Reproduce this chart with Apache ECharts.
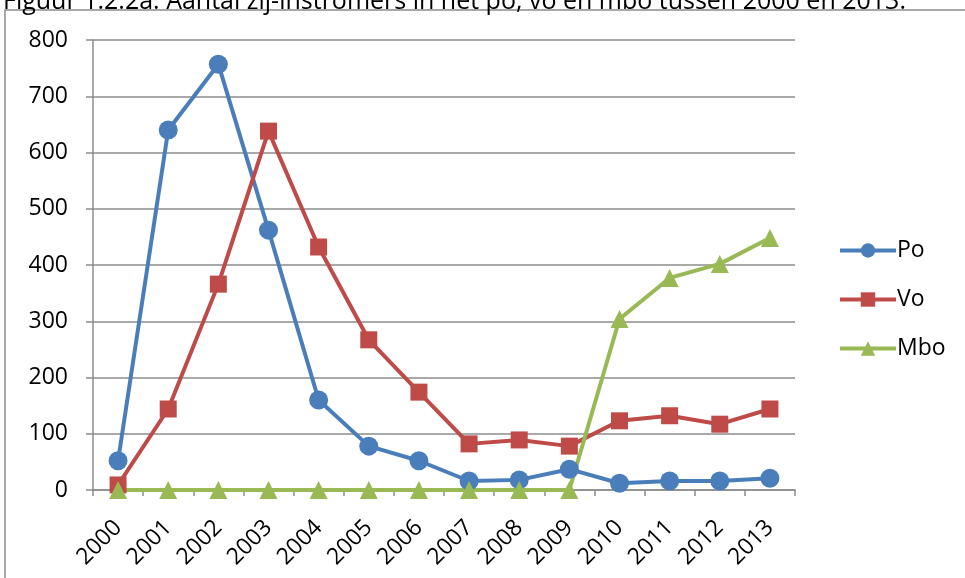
<!DOCTYPE html>
<html>
<head>
<meta charset="utf-8">
<style>
  html, body { margin: 0; padding: 0; background: #fff; }
  #chart { width: 965px; height: 578px; }
</style>
<script src="https://cdn.jsdelivr.net/npm/echarts@6/dist/echarts.min.js"></script>
</head>
<body>
<div id="chart"></div>
<script>
const years = ['2000', '2001', '2002', '2003', '2004', '2005', '2006', '2007', '2008', '2009', '2010', '2011', '2012', '2013']
const po = [52, 640, 757, 462, 160, 78, 52, 16, 18, 37, 12, 16, 16, 21]
const vo = [9, 144, 366, 638, 432, 267, 174, 82, 89, 78, 123, 132, 117, 144]
const mbo = [0, 0, 0, 0, 0, 0, 0, 0, 0, 0, 304, 377, 402, 448]
const yTicks = { min: 0, max: 800, interval: 100 }

const font = 'Open Sans, Liberation Sans, sans-serif'
const chart = echarts.init(document.getElementById('chart'))

function lineSeries(name, data, symbol, color, size) {
  return {
    name: name,
    type: 'line',
    data: data,
    symbol: symbol,
    symbolSize: size,
    showAllSymbol: true,
    lineStyle: { color: color, width: 4 },
    itemStyle: { color: color },
    animation: false
  }
}

chart.setOption({
  title: {
    text: 'Figuur 1.2.2a: Aantal zij-instromers in het po, vo en mbo tussen 2000 en 2013.',
    left: -2,
    top: -16,
    textStyle: { fontFamily: font, fontSize: 25, fontWeight: 'normal', color: '#000' }
  },
  graphic: [{
    type: 'rect',
    shape: { x: 5, y: 10, width: 1000, height: 700 },
    style: { fill: 'none', stroke: '#8c8c8c', lineWidth: 1.5 },
    silent: true
  }],
  grid: { left: 93, right: 170, top: 40, bottom: 88, containLabel: false },
  legend: {
    orient: 'vertical',
    left: 833,
    top: 234,
    itemGap: 26,
    itemWidth: 56,
    itemHeight: 18,
    lineStyle: { width: 4 },
    textStyle: { fontFamily: font, fontSize: 23, color: '#000', padding: [0, 0, 0, -4] },
    data: ['Po', 'Vo', 'Mbo']
  },
  xAxis: {
    type: 'category',
    data: years,
    boundaryGap: true,
    axisLine: { lineStyle: { color: '#8c8c8c', width: 1.5 } },
    axisTick: { show: true, alignWithLabel: false, length: 6, lineStyle: { color: '#8c8c8c', width: 1.5 } },
    axisLabel: { rotate: 45, fontFamily: font, fontSize: 23, color: '#000', margin: 34, interval: 0 }
  },
  yAxis: {
    type: 'value',
    min: yTicks.min,
    max: yTicks.max,
    interval: yTicks.interval,
    axisLine: { show: true, lineStyle: { color: '#8c8c8c', width: 1.5 } },
    axisTick: { show: true, length: 7, lineStyle: { color: '#8c8c8c', width: 1.5 } },
    splitLine: { lineStyle: { color: '#8c8c8c', width: 1.5 } },
    axisLabel: { fontFamily: font, fontSize: 23, color: '#000', margin: 25 }
  },
  series: [
    lineSeries('Po', po, 'circle', '#4a7ebb', 19),
    lineSeries('Vo', vo, 'rect', '#be4b48', 17),
    lineSeries('Mbo', mbo, 'triangle', '#98b954', 18)
  ]
})
</script>
</body>
</html>
